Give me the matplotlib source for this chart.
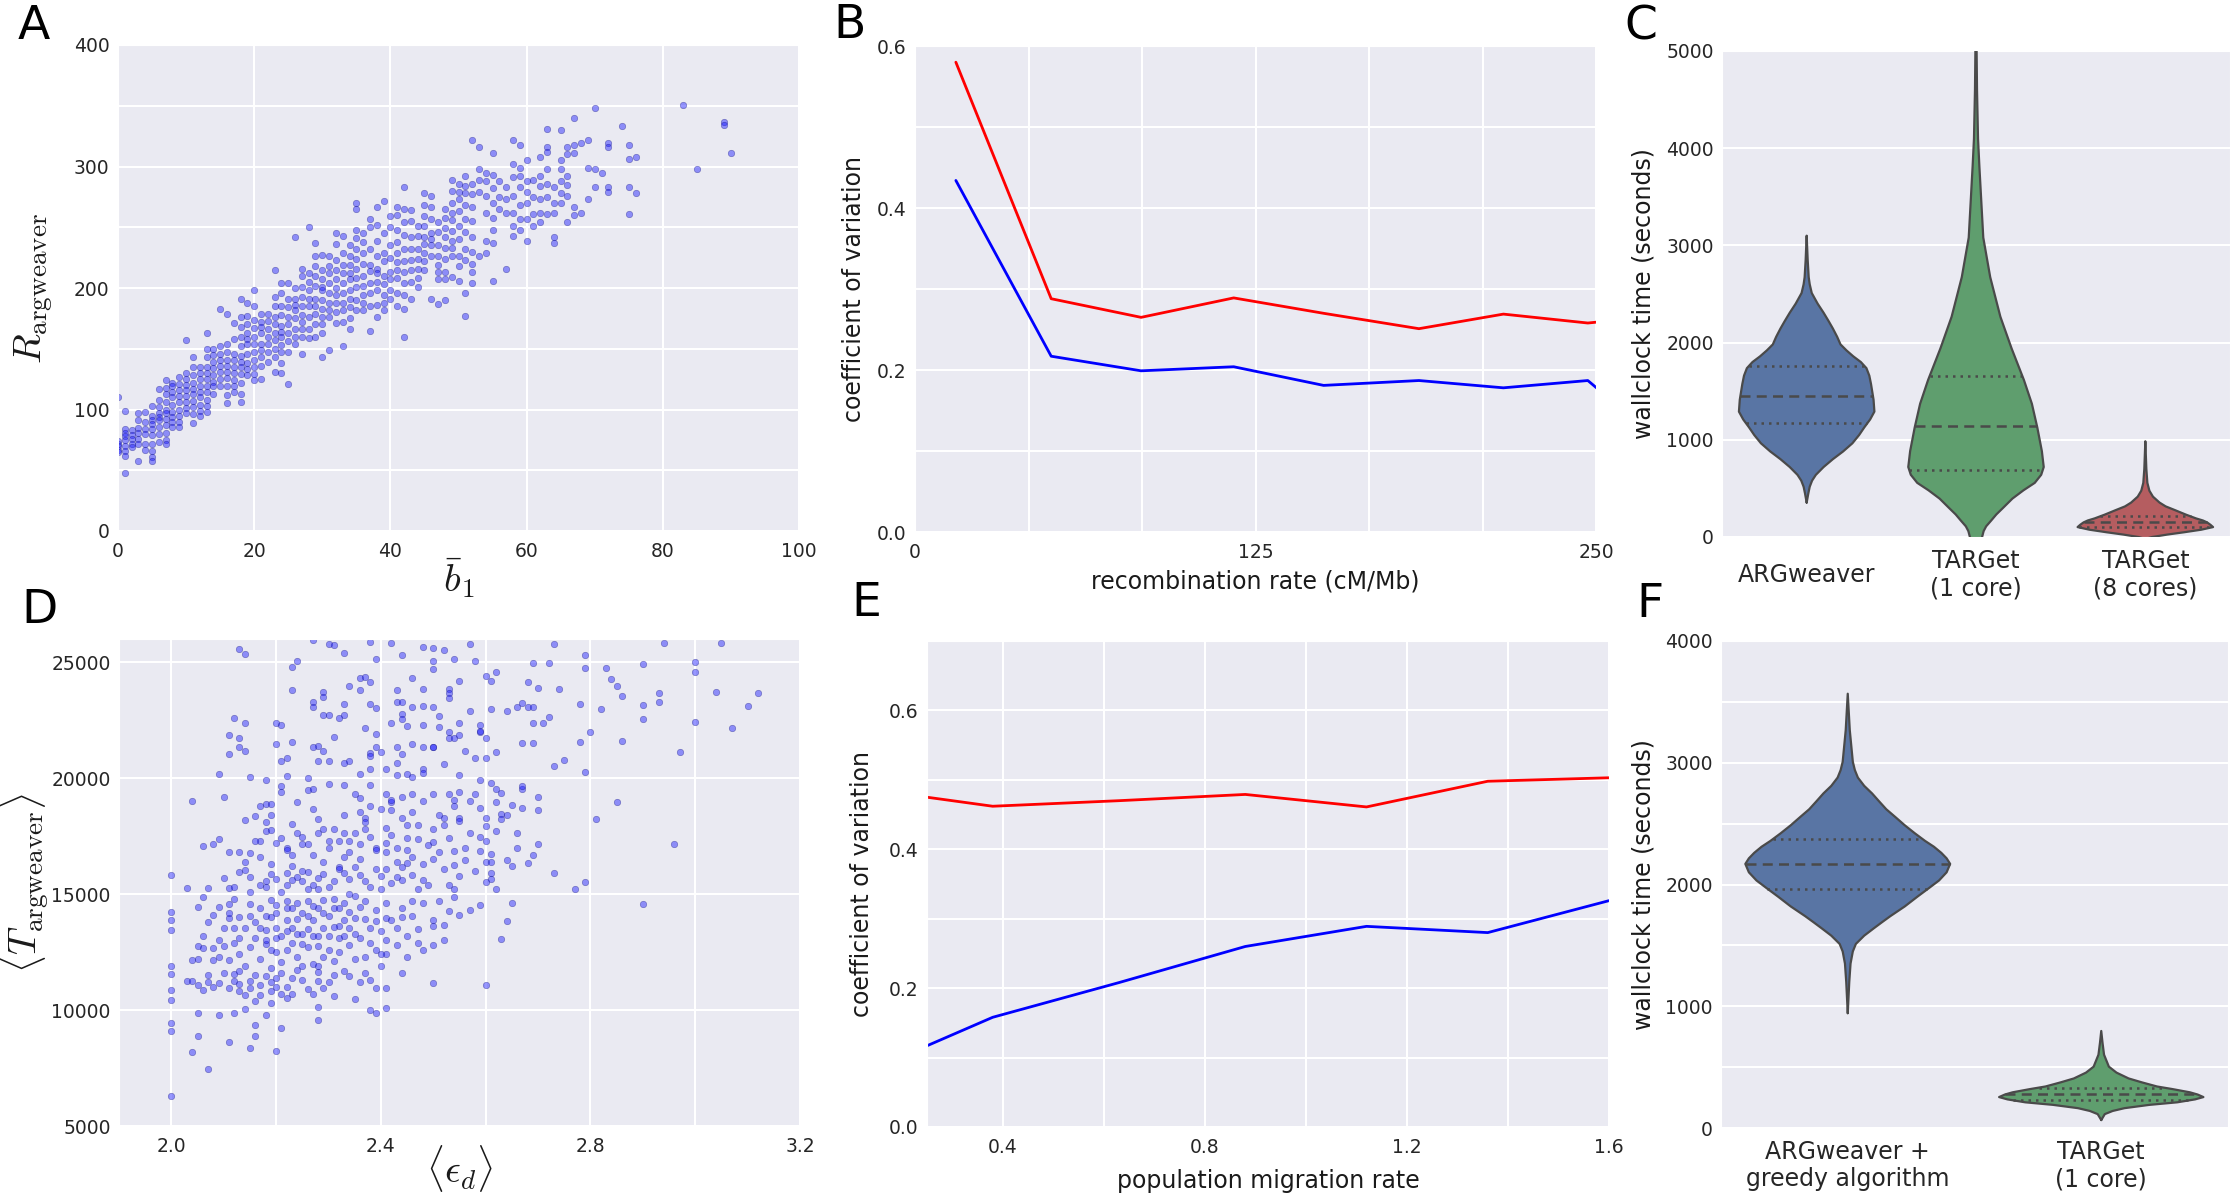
import numpy as np
import matplotlib
matplotlib.use("Agg")
import matplotlib.pyplot as plt
import seaborn as sns

# ---- panel A: R_argweaver vs mean b1 (one list of R values per integer b1)
a_b1 = list(range(0, 73)) + [74, 75, 76, 83, 85, 89, 90]
a_r = [
    [110, 74, 72, 70, 67, 65], [99, 84, 81, 78, 75, 70, 66, 62, 48], [83, 79, 76, 72, 69],
    [97, 91, 85, 81, 76, 72, 58], [98, 90, 84, 80, 72, 67], [103, 95, 91, 88, 84, 79, 72, 66, 61, 58],
    [117, 108, 102, 97, 94, 91, 86, 80, 73], [124, 118, 113, 106, 100, 97, 92, 87, 81, 75, 72],
    [122, 119, 114, 110, 104, 98, 94, 90, 86], [127, 121, 116, 111, 106, 100, 95, 90, 86],
    [157, 130, 125, 120, 116, 111, 106, 101, 97], [143, 135, 128, 122, 117, 113, 107, 102, 96, 89],
    [135, 130, 125, 119, 114, 110, 104, 99, 95], [163, 150, 143, 135, 130, 125, 119, 114, 108, 103, 98],
    [150, 145, 139, 134, 128, 123, 119, 113], [183, 152, 146, 141, 136, 131, 125, 119],
    [179, 154, 147, 141, 136, 131, 126, 119, 112, 105], [171, 158, 146, 141, 135, 130, 124, 119, 114],
    [191, 176, 168, 160, 152, 144, 139, 135, 129, 122, 113, 106], [188, 177, 170, 163, 158, 154, 146, 138, 133, 128],
    [198, 185, 174, 167, 160, 154, 147, 141, 135, 129, 124], [179, 172, 168, 163, 154, 149, 143, 136, 125],
    [179, 173, 166, 160, 154, 147, 139], [215, 193, 185, 176, 170, 163, 157, 150, 143, 131],
    [204, 196, 185, 178, 169, 164, 160, 153, 147, 138, 130], [204, 191, 184, 176, 170, 163, 156, 147, 121],
    [242, 200, 191, 186, 182, 175, 166, 160, 154], [216, 210, 201, 193, 185, 178, 172, 166, 160, 146],
    [250, 212, 205, 198, 191, 185, 176, 166, 159], [237, 226, 218, 210, 202, 191, 185, 179, 170, 160],
    [227, 215, 207, 201, 198, 190, 183, 176, 170, 163, 143], [226, 218, 212, 204, 196, 188, 182, 176, 149],
    [245, 236, 223, 215, 207, 200, 194, 188, 180, 171], [243, 229, 219, 212, 204, 196, 188, 182, 172, 152],
    [235, 226, 219, 212, 207, 198, 191, 184, 175, 166], [270, 265, 248, 241, 232, 224, 216, 208, 201, 190, 182],
    [245, 238, 229, 220, 210, 202, 194, 188, 182], [257, 250, 232, 219, 214, 204, 196, 185, 165],
    [267, 252, 239, 226, 216, 212, 205, 198, 186, 176], [272, 245, 229, 222, 210, 203, 194, 188, 182],
    [259, 250, 235, 225, 213, 207, 198, 191], [267, 260, 248, 238, 229, 221, 215, 208, 196, 185],
    [283, 265, 254, 244, 232, 222, 213, 204, 194, 183, 160], [264, 255, 242, 232, 223, 215, 205, 191],
    [251, 243, 232, 224, 216, 208, 201], [278, 268, 259, 251, 242, 236, 229, 222, 215],
    [276, 267, 257, 245, 240, 235, 226, 191], [254, 246, 235, 226, 219, 213, 207, 187],
    [265, 258, 249, 242, 233, 224, 213, 207, 190], [289, 280, 270, 262, 256, 247, 239, 233, 226, 209],
    [286, 279, 273, 263, 251, 240, 226, 218, 206], [292, 284, 278, 268, 257, 246, 232, 223, 196, 177],
    [322, 286, 277, 267, 255, 242, 230, 220, 213, 204], [316, 298, 289, 279, 226],
    [295, 288, 276, 262, 239, 229], [311, 293, 282, 270, 258, 248, 237, 206], [288, 275, 265],
    [283, 273, 262, 216], [322, 302, 291, 276, 262, 251, 243], [318, 299, 292, 283, 268, 257, 248],
    [305, 288, 279, 270, 257, 239], [289, 275, 261, 251], [308, 292, 284, 273, 262, 254],
    [331, 316, 312, 298, 286, 275, 261], [283, 270, 262, 242, 237], [330, 305, 298, 288, 278, 270],
    [316, 310, 292, 285, 276, 254], [340, 318, 311, 267, 260], [319, 262], [322, 299, 273],
    [348, 298, 283], [295], [319, 316, 283, 279],
    [333], [318, 306, 283, 261], [308, 278], [351], [298], [337, 334], [311],
]

# ---- panel B: coefficient of variation vs recombination rate
b_rate = [15, 50, 83, 117, 150, 185, 216, 247, 253]
b_red = [0.580, 0.288, 0.265, 0.289, 0.270, 0.251, 0.269, 0.258, 0.260]
b_blue = [0.434, 0.217, 0.199, 0.204, 0.181, 0.187, 0.178, 0.187, 0.170]

# ---- panel C: wallclock time violins (half-width profiles + quartiles)
c_labels = ["ARGweaver", "TARGet\n(1 core)", "TARGet\n(8 cores)"]
c_colors = ["#5975a4", "#5f9e6e", "#b55d60"]
c0_y = [354, 450, 517, 580, 639, 720, 801, 880, 964, 1050, 1127, 1210, 1290, 1412, 1574, 1660,
        1737, 1800, 1859, 1920, 1981, 2060, 2144, 2220, 2307, 2400, 2510, 2600, 2673, 2850, 3100]
c0_w = [0, 0.01, 0.018, 0.032, 0.054, 0.10, 0.155, 0.215, 0.27, 0.31, 0.34, 0.375, 0.40, 0.395, 0.38, 0.37,
        0.353, 0.32, 0.275, 0.235, 0.20, 0.18, 0.155, 0.13, 0.10, 0.065, 0.03, 0.018, 0.012, 0.006, 0]
c1_y = [-150, 0, 60, 110, 170, 232, 300, 395, 480, 557, 640, 720, 883, 1127, 1371, 1615, 1941, 2266,
        2673, 3080, 3812, 4097, 4600, 5100]
c1_w = [0, 0.036, 0.045, 0.06, 0.09, 0.12, 0.16, 0.215, 0.28, 0.347, 0.385, 0.40, 0.389, 0.362, 0.33,
        0.283, 0.21, 0.144, 0.084, 0.043, 0.02, 0.012, 0.006, 0.003]
c2_y = [-20, 0, 25, 49, 75, 102, 125, 150, 170, 191, 230, 273, 315, 354, 415, 476, 557, 700, 985]
c2_w = [0, 0.04, 0.13, 0.23, 0.33, 0.40, 0.385, 0.365, 0.34, 0.30, 0.24, 0.18, 0.12, 0.084, 0.045,
        0.024, 0.012, 0.006, 0]
c_quart = [(1168, 1452, 1758), (688, 1147, 1656), (98, 150, 212)]

# ---- panel D: <T_argweaver> vs <eps_d>
d_points = [
    (2.27, 25970), (2.30, 25770), (2.31, 25750), (2.33, 25400), (2.38, 25890), (2.42, 25830), (2.44, 25290),
    (2.48, 25660), (2.50, 25600), (2.50, 25030), (2.50, 24690), (2.52, 25530), (2.54, 25150), (2.57, 25800),
    (2.58, 25030), (2.39, 25120), (2.24, 25030), (2.23, 24810), (2.13, 25550), (2.14, 25340), (2.73, 25800),
    (2.79, 25320), (2.94, 25830), (3.05, 25830), (2.72, 24980), (2.69, 24950), (2.60, 24400), (2.62, 24570),
    (2.79, 24740), (2.83, 24740), (2.90, 24910), (3.00, 25000), (3.00, 24570), (2.84, 24270), (2.68, 24160),
    (2.61, 24180), (2.55, 24180), (2.46, 24300), (2.36, 24310), (2.37, 24350), (2.38, 24160), (2.34, 23960),
    (2.23, 23800), (2.43, 23790), (2.48, 23840), (2.53, 23840), (2.53, 23670), (2.70, 23870), (2.74, 23840),
    (2.85, 23960), (2.86, 23550), (2.93, 23670), (3.04, 23720), (3.12, 23670), (2.53, 23470), (2.36, 23790),
    (2.29, 23700),
    (2.27, 23280), (2.27, 23070), (2.29, 23500), (2.33, 23210), (2.33, 22730), (2.29, 22730), (2.30, 22730),
    (2.38, 23210), (2.39, 23040), (2.43, 23280), (2.44, 23280), (2.46, 23070), (2.48, 23100), (2.50, 23070),
    (2.51, 22700), (2.57, 22900), (2.61, 22990), (2.64, 22900), (2.66, 23070), (2.67, 23240), (2.68, 23070),
    (2.69, 23070), (2.72, 22650), (2.69, 22360), (2.71, 22390), (2.78, 23210), (2.82, 22990), (2.90, 23160),
    (2.90, 22560), (2.93, 23280), (3.00, 22440), (3.07, 22170), (3.10, 23110), (2.32, 22610), (2.37, 22180),
    (2.42, 22360), (2.44, 22770), (2.44, 22530), (2.45, 22270), (2.48, 22310), (2.51, 22220), (2.53, 21970),
    (2.55, 22390), (2.59, 22310), (2.59, 21970), (2.12, 22600), (2.14, 22360), (2.11, 21880), (2.13, 21740),
    (2.13, 21330), (2.14, 21160), (2.11, 21030), (2.20, 22360), (2.21, 22310), (2.20, 21470), (2.23, 21570),
    (2.31, 21790), (2.28, 21400), (2.29, 21160), (2.27, 21360), (2.22, 20860), (2.21, 20750), (2.30, 20750),
    (2.28, 20720), (2.34, 20740), (2.39, 21910), (2.39, 21360), (2.40, 21130), (2.38, 21100), (2.38, 20940),
    (2.43, 21360), (2.44, 21030), (2.43, 20650), (2.46, 21470), (2.48, 21360), (2.50, 21360), (2.50, 21330),
    (2.53, 21740), (2.54, 21740), (2.55, 21840), (2.56, 21160), (2.58, 20890), (2.60, 21740), (2.62, 21130),
    (2.59, 22050), (2.67, 21510), (2.69, 21510), (2.78, 21570), (2.86, 21620), (2.97, 21110), (2.73, 20520),
    (2.79, 20260), (2.09, 20170), (2.15, 20060), (2.18, 19920), (2.22, 20090), (2.26, 20000), (2.33, 20650),
    (2.36, 20170), (2.38, 20380), (2.41, 20380), (2.43, 20140), (2.45, 20170), (2.46, 20070), (2.48, 20380),
    (2.48, 20210), (2.52, 20600), (2.55, 20120), (2.59, 19920), (2.60, 20890),
    (2.04, 19010), (2.10, 19190), (2.21, 19660), (2.21, 19410), (2.24, 18980), (2.26, 19490), (2.27, 19540),
    (2.30, 19750), (2.33, 19700), (2.35, 19320), (2.36, 19150), (2.38, 19700), (2.41, 19320), (2.42, 18980),
    (2.42, 19050), (2.44, 19190), (2.46, 19320), (2.48, 19010), (2.50, 19320), (2.53, 19320), (2.54, 19070),
    (2.55, 19410), (2.58, 19320), (2.61, 19800), (2.62, 19530), (2.63, 19360), (2.67, 19530), (2.62, 18960),
    (2.65, 18850), (2.67, 18730), (2.70, 18640), (2.85, 18980), (2.81, 18250), (2.63, 18470), (2.63, 18250),
    (2.06, 17070), (2.08, 17140), (2.09, 17360), (2.11, 16800), (2.13, 16820), (2.15, 16770), (2.14, 18210),
    (2.16, 18370), (2.17, 18810), (2.18, 18900), (2.18, 18110), (2.19, 18900), (2.19, 18430), (2.17, 17310),
    (2.16, 17280), (2.18, 17720), (2.19, 17760), (2.20, 17210), (2.22, 16970), (2.22, 16900), (2.23, 16680),
    (2.23, 18030), (2.24, 17650), (2.25, 17170), (2.25, 17480), (2.26, 17140), (2.27, 18670), (2.28, 18230),
    (2.28, 17620), (2.29, 17820), (2.30, 17310), (2.31, 17790), (2.32, 17280), (2.33, 18390), (2.33, 17620),
    (2.34, 16800), (2.35, 17620), (2.36, 17170), (2.36, 18520), (2.37, 18300), (2.37, 18110), (2.38, 18810),
    (2.38, 17450), (2.39, 17000), (2.40, 18670), (2.41, 17870), (2.41, 16800), (2.42, 17530), (2.42, 18640),
    (2.44, 18300), (2.45, 17960), (2.45, 17410), (2.46, 18520), (2.47, 17360), (2.50, 17790), (2.50, 17240),
    (2.51, 16800), (2.52, 18300), (2.52, 17960), (2.54, 16850), (2.55, 18300), (2.55, 18160), (2.57, 17620),
    (2.59, 17450), (2.59, 16850), (2.59, 18730), (2.60, 17920), (2.60, 17310), (2.66, 17620), (2.61, 16720),
    (2.64, 18390), (2.67, 19660), (2.70, 17150), (2.69, 16680), (2.68, 16340), (2.96, 17140), (2.60, 16390),
    (2.61, 16390), (2.64, 16470), (2.56, 16490), (2.54, 16250), (2.61, 15910), (2.61, 15660), (2.60, 15540),
    (2.73, 15910), (2.79, 15540), (2.77, 15200), (2.55, 15780), (2.54, 15200), (2.03, 15260), (2.00, 15810),
    (2.07, 15260), (2.06, 14890), (2.11, 15260), (2.12, 15310), (2.13, 15950), (2.14, 16050), (2.15, 15740),
    (2.17, 15400), (2.18, 15570), (2.19, 15880), (2.20, 15660), (2.22, 15910), (2.22, 15400), (2.24, 15740),
    (2.25, 15570), (2.26, 15950), (2.27, 15400), (2.28, 15230), (2.29, 15880), (2.31, 15570), (2.32, 16170),
    (2.33, 15910), (2.34, 15660), (2.35, 16170), (2.36, 15830), (2.37, 15570), (2.39, 16080), (2.40, 15780),
    (2.41, 16080), (2.43, 16390), (2.43, 15740), (2.44, 16170), (2.45, 16340), (2.46, 15830), (2.48, 15610),
    (2.48, 16290), (2.47, 15200), (2.50, 16510),
    (2.00, 14210), (2.00, 13870), (2.00, 13440), (2.05, 14460), (2.04, 12160), (2.05, 12760), (2.06, 12670),
    (2.07, 13810), (2.08, 12160), (2.08, 12670), (2.09, 14460), (2.10, 13530), (2.10, 12760), (2.11, 14580),
    (2.11, 13950), (2.11, 12160), (2.12, 13530), (2.13, 14000), (2.13, 13100), (2.14, 13530), (2.15, 14580),
    (2.15, 14070), (2.16, 13100), (2.17, 13530), (2.18, 14040), (2.18, 13440), (2.18, 12850), (2.19, 14750),
    (2.19, 14000), (2.20, 13530), (2.20, 12500), (2.20, 14510), (2.21, 12080), (2.21, 13180), (2.22, 13870),
    (2.22, 14380), (2.23, 12890), (2.23, 13530), (2.23, 14380), (2.24, 13910), (2.25, 13270), (2.25, 12850),
    (2.26, 14040), (2.26, 14720), (2.27, 13180), (2.27, 13870), (2.28, 14380), (2.28, 12760), (2.29, 13530),
    (2.29, 14750), (2.30, 14040), (2.30, 13180), (2.31, 14380), (2.32, 13610), (2.32, 13100), (2.33, 13870),
    (2.33, 14630), (2.33, 13180), (2.34, 14210), (2.34, 13530), (2.35, 13950), (2.36, 14460), (2.37, 12300),
    (2.37, 13910), (2.38, 13530), (2.39, 13830), (2.39, 12590), (2.40, 11900), (2.41, 13950), (2.41, 13010),
    (2.41, 12420), (2.43, 13530), (2.44, 14380), (2.45, 13180), (2.46, 14070), (2.48, 12590), (2.50, 13870),
    (2.50, 13610), (2.52, 13660), (2.53, 14290), (2.53, 15400), (2.54, 14890), (2.59, 14550), (2.65, 14630),
    (2.64, 13830), (2.63, 13080), (2.50, 11170), (2.60, 11100), (2.90, 14580), (2.03, 11270), (2.04, 11270),
    (2.05, 11100), (2.06, 10880), (2.07, 11210), (2.08, 11000), (2.09, 11170), (2.11, 10970), (2.12, 11270),
    (2.12, 11560), (2.13, 10800), (2.13, 11140), (2.14, 10630), (2.15, 11270), (2.15, 10970), (2.17, 11100),
    (2.17, 10630), (2.18, 11480), (2.19, 11220), (2.19, 10800), (2.20, 11000), (2.20, 11390), (2.21, 10710),
    (2.22, 11000), (2.23, 10710), (2.24, 11730), (2.25, 11310), (2.27, 10710), (2.28, 11650), (2.28, 11270),
    (2.29, 10970), (2.30, 11220), (2.31, 11510), (2.34, 11480), (2.35, 10460), (2.38, 11310), (2.39, 10970),
    (2.41, 10970), (2.00, 11900), (2.00, 11560), (2.00, 10880), (2.00, 10420), (2.05, 9860), (2.09, 9770),
    (2.12, 9860), (2.14, 10060), (2.16, 9350), (2.18, 9770), (2.21, 9230), (2.28, 10120), (2.28, 9570),
    (2.38, 10000), (2.39, 9860), (2.41, 10080), (2.00, 9430), (2.00, 9090), (2.05, 8870), (2.11, 8630),
    (2.16, 8890), (2.15, 8360), (2.20, 8240), (2.04, 8210), (2.07, 7440), (2.00, 6310),
    # denser core of the cloud
    (2.06, 13200), (2.08, 14100), (2.09, 12300), (2.10, 11600), (2.10, 15700), (2.12, 12900), (2.12, 14800),
    (2.13, 12400), (2.14, 16400), (2.14, 11900), (2.15, 12700), (2.15, 15100), (2.16, 13800), (2.16, 11500),
    (2.17, 12200), (2.17, 14400), (2.17, 16600), (2.18, 13000), (2.18, 15300), (2.19, 12600), (2.19, 11800),
    (2.19, 16300), (2.20, 14200), (2.20, 13100), (2.21, 15100), (2.21, 11600), (2.21, 17400), (2.22, 12600),
    (2.22, 13400), (2.22, 14700), (2.23, 11400), (2.23, 15600), (2.23, 16200), (2.24, 12300), (2.24, 13300),
    (2.24, 14600), (2.25, 11900), (2.25, 14200), (2.25, 16000), (2.26, 12700), (2.26, 13500), (2.26, 15200),
    (2.27, 12000), (2.27, 14500), (2.27, 16700), (2.28, 13200), (2.28, 15700), (2.28, 11900), (2.29, 12300),
    (2.29, 14200), (2.29, 16400), (2.30, 12600), (2.30, 15300), (2.30, 17000), (2.31, 13600), (2.31, 12100),
    (2.31, 14800), (2.32, 16100), (2.32, 12500), (2.32, 14400), (2.33, 11700), (2.33, 16600), (2.34, 12800),
    (2.34, 15000), (2.34, 17300), (2.35, 13300), (2.35, 12200), (2.35, 14900), (2.36, 16500), (2.36, 13100),
    (2.37, 14700), (2.37, 11600), (2.37, 17800), (2.38, 12900), (2.38, 15300), (2.39, 14300), (2.39, 16900),
    (2.40, 13400), (2.40, 15200), (2.40, 12400), (2.41, 14600), (2.41, 17200), (2.42, 13900), (2.42, 15500),
    (2.43, 12800), (2.43, 17000), (2.44, 14000), (2.44, 15600), (2.45, 16900), (2.45, 12300), (2.46, 14700),
    (2.46, 16600), (2.47, 13500), (2.47, 18000), (2.48, 14600), (2.49, 17100), (2.49, 15400), (2.50, 12800),
    (2.51, 14700), (2.51, 18400), (2.52, 16100), (2.53, 17400), (2.54, 18800), (2.55, 14100), (2.56, 17000),
    (2.57, 19000), (2.58, 16000), (2.60, 18300), (2.62, 17700), (2.65, 16200), (2.05, 12200), (2.07, 11500),
    (2.09, 13000), (2.11, 14200), (2.13, 11700), (2.16, 10400), (2.19, 10300), (2.22, 10500), (2.26, 10900),
    (2.31, 10600), (2.36, 11200), (2.44, 11600), (2.47, 12900), (2.52, 13000), (2.57, 14300), (2.62, 15200),
    (2.66, 17000), (2.70, 19200), (2.75, 20800), (2.80, 22000),
]

# ---- panel E: coefficient of variation vs migration rate
e_rate = [0.25, 0.38, 0.63, 0.88, 1.12, 1.36, 1.60]
e_red = [0.475, 0.462, 0.470, 0.479, 0.461, 0.498, 0.503]
e_blue = [0.117, 0.158, 0.208, 0.260, 0.289, 0.280, 0.326]

# ---- panel F: wallclock violins, greedy vs TARGet
f_labels = ["ARGweaver +\ngreedy algorithm", "TARGet\n(1 core)"]
f_colors = ["#5975a4", "#5f9e6e"]
f0_y = [943, 1200, 1350, 1450, 1512, 1580, 1642, 1690, 1740, 1820, 1902, 1970, 2033, 2100, 2169, 2215,
        2260, 2310, 2358, 2420, 2488, 2550, 2618, 2680, 2748, 2810, 2878, 2940, 3008, 3268, 3567]
f0_w = [0, 0.006, 0.011, 0.02, 0.032, 0.065, 0.104, 0.135, 0.168, 0.225, 0.276, 0.32, 0.36, 0.39, 0.404,
        0.39, 0.369, 0.34, 0.305, 0.265, 0.224, 0.19, 0.152, 0.125, 0.096, 0.065, 0.04, 0.028, 0.02, 0.008, 0]
f1_y = [65, 114, 140, 163, 190, 211, 235, 254, 275, 293, 320, 341, 375, 407, 455, 504, 602, 700, 797]
f1_w = [0, 0.014, 0.045, 0.092, 0.19, 0.30, 0.37, 0.403, 0.38, 0.35, 0.28, 0.22, 0.16, 0.108, 0.06, 0.03,
        0.011, 0.005, 0]
f_quart = [(1967, 2172, 2374), (228, 276, 332)]

W, H = 2232, 1200
sns.set_style("darkgrid")
plt.rcParams["font.family"] = ["DejaVu Sans"]
plt.rcParams["mathtext.fontset"] = "cm"
plt.rcParams["grid.linewidth"] = 1.5
plt.rcParams["xtick.major.pad"] = 8
plt.rcParams["ytick.major.pad"] = 6

fig = plt.figure(figsize=(W / 100, H / 100), dpi=100)


def px_axes(left, top, right, bottom):
    return fig.add_axes([left / W, 1 - bottom / H, (right - left) / W, (bottom - top) / H])


def style(ax, xlabel, ylabel, xdist, ydist, lsize=17):
    ax.tick_params(labelsize=13.5, colors=".15", length=0)
    ax.set_xlabel(xlabel, fontsize=lsize, color=".1")
    ax.set_ylabel(ylabel, fontsize=lsize, color=".1")
    ax.xaxis.label.set_va("center")
    ax.yaxis.label.set_va("center")
    bb = ax.get_position()
    ax.xaxis.set_label_coords(0.5, -xdist / (bb.height * H))
    ax.yaxis.set_label_coords(-ydist / (bb.width * W), 0.5)


def sparse_labels(ticks, keep, fmt):
    return [fmt(t) if keep(t) else "" for t in ticks]


def violin(ax, pos, ys, ws, color, quart):
    ys = np.asarray(ys, float)
    ws = np.asarray(ws, float)
    ax.fill_betweenx(ys, pos - ws, pos + ws, facecolor=color, edgecolor="none", zorder=2)
    ax.plot(np.r_[pos - ws, (pos + ws)[::-1]], np.r_[ys, ys[::-1]], color="#4a4a4a", lw=1.6, zorder=3)
    for q, ls in zip(quart, [(0, (1, 2)), (0, (4, 2.5)), (0, (1, 2))]):
        hw = np.interp(q, ys, ws)
        ax.plot([pos - hw, pos + hw], [q, q], color="#4a4a4a", lw=1.8, linestyle=ls, zorder=3)


scatter_kw = dict(s=22, color=(0.1, 0.1, 1.0), alpha=0.45, edgecolors=(0, 0, 0.4), linewidths=0.4)

# A
ax = px_axes(118, 45, 799, 531)
ax_x = [b for b, rs in zip(a_b1, a_r) for _ in rs]
ax_y = [r for rs in a_r for r in rs]
ax.scatter(ax_x, ax_y, **scatter_kw)
ax.set_xlim(0, 100)
ax.set_ylim(0, 400)
ax.set_xticks(np.arange(0, 101, 20))
yt = np.arange(0, 401, 50)
ax.set_yticks(yt)
ax.set_yticklabels(sparse_labels(yt, lambda t: t % 100 == 0, lambda t: "%d" % t))
style(ax, r"$\bar{b}_1$", r"$R_{\mathrm{argweaver}}$", 47, 84)
ax.xaxis.label.set_fontsize(28)
ax.yaxis.label.set_fontsize(28)

# B
ax = px_axes(915, 46, 1596, 532)
ax.plot(b_rate, b_red, color="red", lw=2)
ax.plot(b_rate, b_blue, color="blue", lw=2)
ax.set_xlim(0, 250)
ax.set_ylim(0, 0.6)
xt = np.linspace(0, 250, 7)
ax.set_xticks(xt)
ax.set_xticklabels(sparse_labels(xt, lambda t: round(t) % 125 == 0, lambda t: "%d" % round(t)))
yt = np.linspace(0, 0.6, 7)
ax.set_yticks(yt)
ax.set_yticklabels(sparse_labels(yt, lambda t: round(t * 10) % 2 == 0, lambda t: "%.1f" % t))
style(ax, "recombination rate (cM/Mb)", "coefficient of variation", 50, 61)

# C
ax = px_axes(1722, 51, 2230, 537)
for i, (ys, ws) in enumerate([(c0_y, c0_w), (c1_y, c1_w), (c2_y, c2_w)]):
    violin(ax, i, ys, ws, c_colors[i], c_quart[i])
ax.set_xlim(-0.5, 2.5)
ax.set_ylim(0, 5000)
ax.set_xticks(range(3))
ax.set_xticklabels(c_labels, fontsize=17)
ax.xaxis.grid(False)
ax.set_yticks(np.arange(0, 5001, 1000))
style(ax, "", "wallclock time (seconds)", 50, 78)
ax.tick_params(axis="x", labelsize=17, pad=27)
for lab in ax.get_xticklabels():
    lab.set_va("center")

# D
ax = px_axes(119, 639, 800, 1126)
ax.scatter([p[0] for p in d_points], [p[1] for p in d_points], **scatter_kw)
ax.set_xlim(1.9, 3.2)
ax.set_ylim(5000, 26000)
xt = np.arange(2.0, 3.21, 0.2)
ax.set_xticks(xt)
ax.set_xticklabels(sparse_labels(xt, lambda t: round(t * 10) % 4 == 0, lambda t: "%.1f" % t))
ax.set_yticks(np.arange(5000, 25001, 5000))
style(ax, r"$\langle\epsilon_d\rangle$", r"$\langle T_{\mathrm{argweaver}}\rangle$", 43, 95)
ax.xaxis.label.set_fontsize(28)
ax.yaxis.label.set_fontsize(28)

# E
ax = px_axes(927, 641, 1609, 1127)
ax.plot(e_rate, e_red, color="red", lw=2)
ax.plot(e_rate, e_blue, color="blue", lw=2)
ax.set_xlim(0.25, 1.6)
ax.set_ylim(0, 0.7)
xt = np.arange(0.4, 1.61, 0.2)
ax.set_xticks(xt)
ax.set_xticklabels(sparse_labels(xt, lambda t: round(t * 10) % 4 == 0, lambda t: "%.1f" % t))
yt = np.linspace(0, 0.6, 7)
ax.set_yticks(yt)
ax.set_yticklabels(sparse_labels(yt, lambda t: round(t * 10) % 2 == 0, lambda t: "%.1f" % t))
style(ax, "population migration rate", "coefficient of variation", 54, 65)

# F
ax = px_axes(1721, 641, 2228, 1128)
for i, (ys, ws) in enumerate([(f0_y, f0_w), (f1_y, f1_w)]):
    violin(ax, i, ys, ws, f_colors[i], f_quart[i])
ax.set_xlim(-0.5, 1.5)
ax.set_ylim(0, 4000)
ax.set_xticks(range(2))
ax.set_xticklabels(f_labels)
ax.xaxis.grid(False)
yt = np.arange(0, 4001, 500)
ax.set_yticks(yt)
ax.set_yticklabels(sparse_labels(yt, lambda t: t % 1000 == 0, lambda t: "%d" % t))
style(ax, "", "wallclock time (seconds)", 50, 77)
ax.tick_params(axis="x", labelsize=17, pad=27)
for lab in ax.get_xticklabels():
    lab.set_va("center")

# panel letters
for letter, x, y in [("A", 18, 4), ("B", 833, 3), ("C", 1624, 4),
                     ("D", 21, 588), ("E", 851, 581), ("F", 1636, 582)]:
    fig.text(x / W, 1 - y / H, letter, fontsize=34, ha="left", va="top", color="k")

fig.savefig("out.png", dpi=100)
